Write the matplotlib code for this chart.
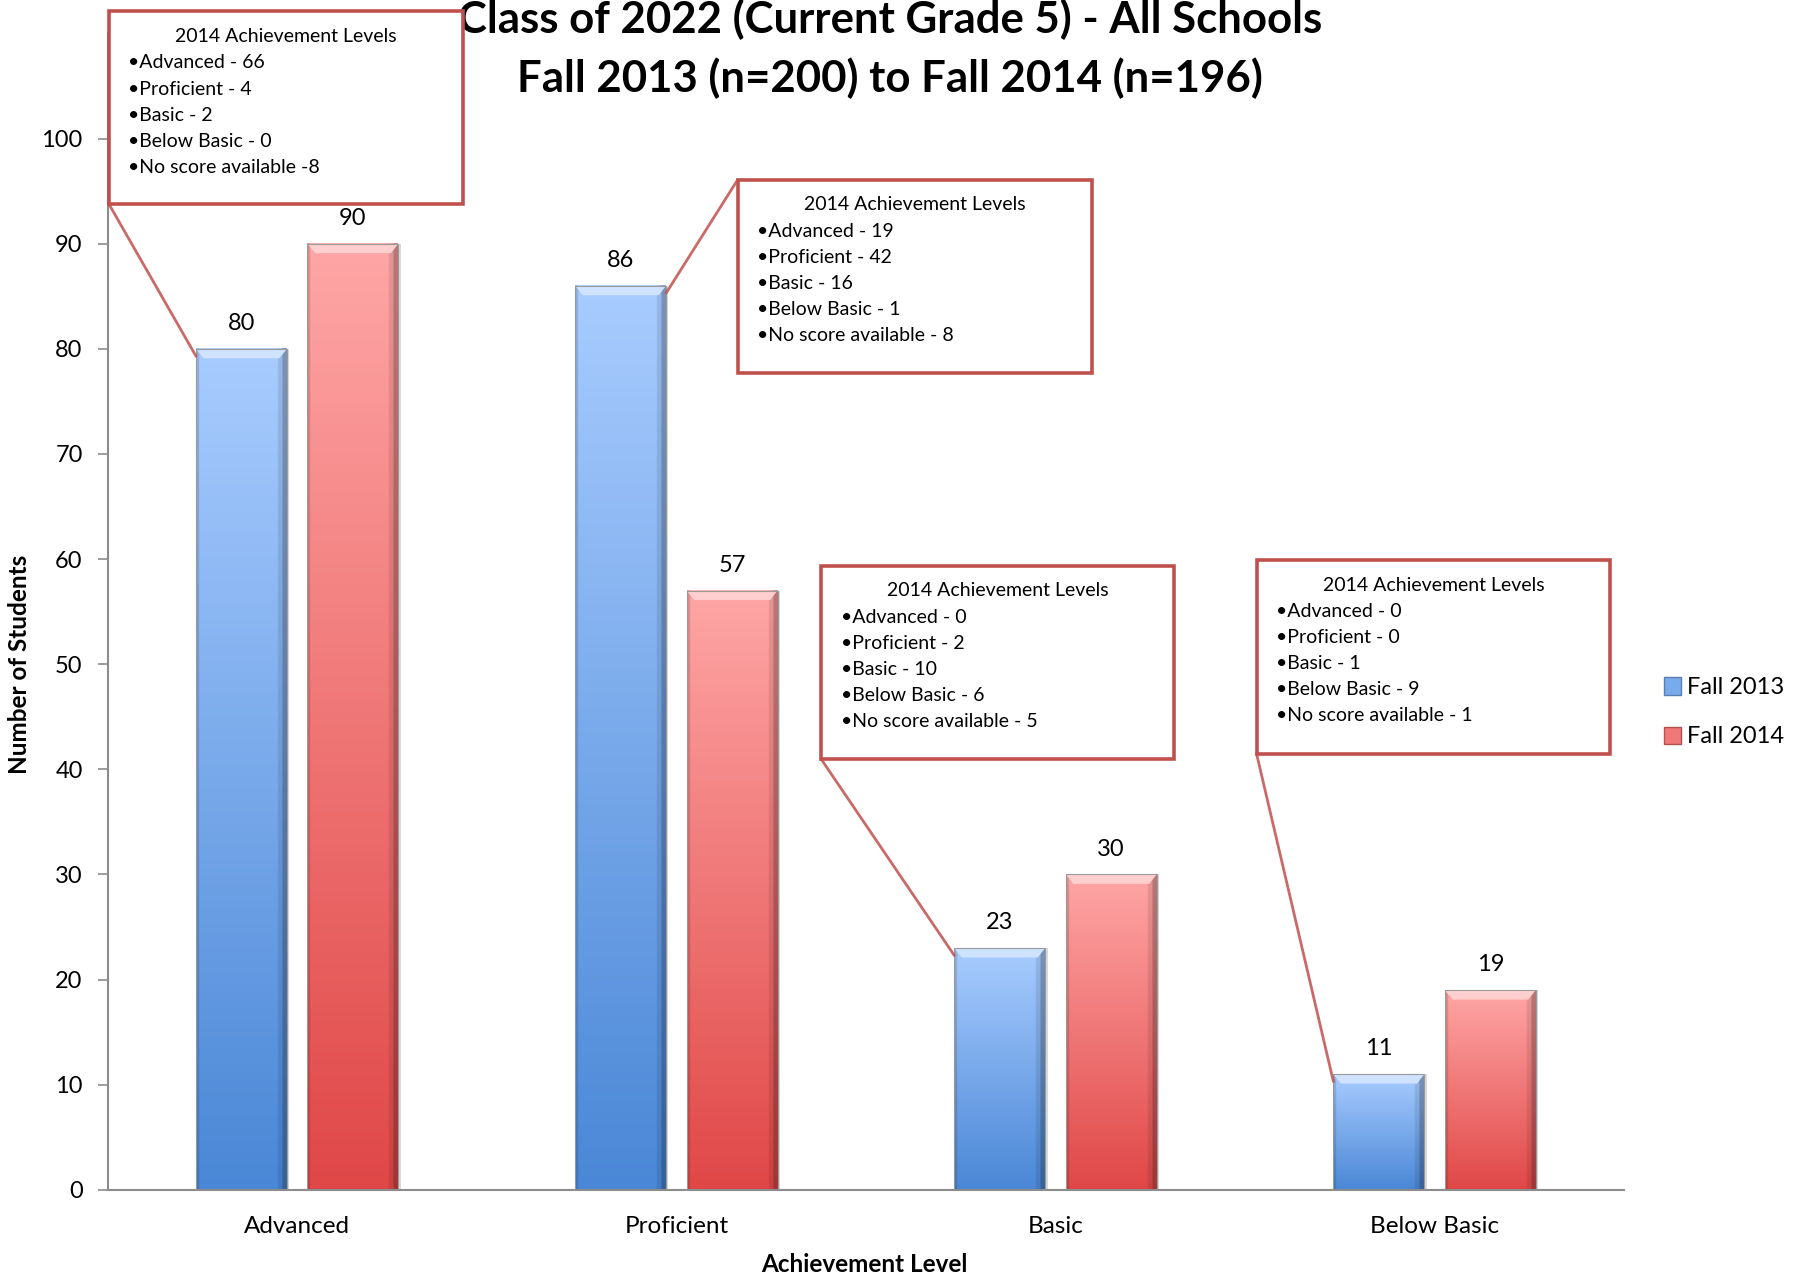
import numpy as np
import matplotlib
matplotlib.use("Agg")
import matplotlib.pyplot as plt
from matplotlib.patches import Rectangle, Polygon, Patch, ConnectionPatch

plt.rcParams['font.family'] = ['Lato', 'DejaVu Sans']

# ---------------- data ----------------
categories = ["Advanced", "Proficient", "Basic", "Below Basic"]
fall_2013 = [80, 86, 23, 11]
fall_2014 = [90, 57, 30, 19]
series_names = ["Fall 2013", "Fall 2014"]
y_ticks = [0, 10, 20, 30, 40, 50, 60, 70, 80, 90, 100]

box_header = "2014 Achievement Levels"
box_lines = [
    ["Advanced - 66", "Proficient - 4", "Basic - 2", "Below Basic - 0", "No score available -8"],
    ["Advanced - 19", "Proficient - 42", "Basic - 16", "Below Basic - 1", "No score available - 8"],
    ["Advanced - 0", "Proficient - 2", "Basic - 10", "Below Basic - 6", "No score available - 5"],
    ["Advanced - 0", "Proficient - 0", "Basic - 1", "Below Basic - 9", "No score available - 1"],
]

title_lines = ["Class of 2022 (Current Grade 5) - All Schools",
               "Fall 2013 (n=200) to Fall 2014 (n=196)"]

# ---------------- figure ----------------
W, H = 1796, 1278
fig = plt.figure(figsize=(W / 100, H / 100), dpi=100)

def F(x, y):
    """reference (shown 1568x1116) pixel -> figure fraction"""
    return x / 1568.0, 1 - y / 1116.0

ax_l, ax_r = 94 / 1568, 1418 / 1568
y0 = 1 - 1039 / 1116
y100 = 1 - 121 / 1116
ymax = 110
ax_top = y0 + (y100 - y0) * ymax / 100
ax = fig.add_axes([ax_l, y0, ax_r - ax_l, ax_top - y0])

x = np.arange(len(categories))
bw = 0.24
off = 0.147

blue_top, blue_bot = np.array([0.66, 0.80, 1.00]), np.array([0.29, 0.53, 0.84])
red_top, red_bot = np.array([1.00, 0.65, 0.65]), np.array([0.88, 0.28, 0.28])

b1 = ax.bar(x - off, fall_2013, bw, color='none', edgecolor='none', zorder=2)
b2 = ax.bar(x + off, fall_2014, bw, color='none', edgecolor='none', zorder=2)

def shade(container, top, bot):
    for p in container.patches:
        px, py, pw, ph = p.get_x(), p.get_y(), p.get_width(), p.get_height()
        ny, nx = 200, 60
        t = np.linspace(0, 1, ny)[:, None, None]  # 0 top -> 1 bottom
        img = top[None, None, :] * (1 - t) + bot[None, None, :] * t
        img = np.repeat(img, nx, axis=1)
        u = np.linspace(0, 1, nx)
        edge = np.ones(nx)
        edge[u > 0.95] = 0.72
        edge[(u > 0.90) & (u <= 0.95)] = 0.90
        edge[u < 0.03] = 0.85
        img = img * edge[None, :, None]
        img = np.clip(img, 0, 1)
        ax.imshow(img, extent=[px, px + pw, py, py + ph], aspect='auto',
                  origin='upper', zorder=2, interpolation='bilinear')
        # bevel top cap
        dy = 0.9
        dx = 0.02
        cap = Polygon([(px, py + ph), (px + pw, py + ph),
                       (px + pw - dx, py + ph - dy), (px + dx, py + ph - dy)],
                      closed=True, facecolor=np.clip(top * 0.55 + 0.45, 0, 1),
                      edgecolor='none', zorder=3)
        ax.add_patch(cap)
        ax.add_patch(Rectangle((px, py), pw, ph, facecolor='none',
                               edgecolor='#9a9a9a', lw=0.8, zorder=3))
        # subtle shadow on right
        ax.add_patch(Rectangle((px + pw, py), 0.006, ph, facecolor='#c0c0c0',
                               edgecolor='none', alpha=0.6, zorder=1.9))

shade(b1, blue_top, blue_bot)
shade(b2, red_top, red_bot)

for cont, vals in ((b1, fall_2013), (b2, fall_2014)):
    for p, v in zip(cont.patches, vals):
        ax.text(p.get_x() + p.get_width() / 2, p.get_height() + 1.4, str(v),
                ha='center', va='bottom', fontsize=17, color='black', zorder=4)

ax.set_xlim(-0.5, len(categories) - 0.5)
ax.set_ylim(0, ymax)
ax.set_yticks(y_ticks)
ax.set_yticklabels([str(t) for t in y_ticks], fontsize=17)
ax.set_xticks(x)
ax.set_xticklabels(categories, fontsize=17.5)
ax.tick_params(axis='x', length=0, pad=19)
ax.tick_params(axis='y', length=7, width=1.2, color='#8c8c8c', direction='out', pad=11)
for s in ('top', 'right'):
    ax.spines[s].set_visible(False)
for s in ('left', 'bottom'):
    ax.spines[s].set_color('#8c8c8c')
    ax.spines[s].set_linewidth(1.5)

# axis labels
fig.text(*F(17, 580), "Number of Students", rotation=90, ha='center', va='center',
         fontsize=17.5, fontweight='bold')
fig.text(*F(755, 1104), "Achievement Level", ha='center', va='center',
         fontsize=17.5, fontweight='bold')

# title
fig.text(*F(777, 17), title_lines[0], ha='center', va='center',
         fontsize=31.5, fontweight='bold')
fig.text(*F(777, 68), title_lines[1], ha='center', va='center',
         fontsize=31.5, fontweight='bold')

# legend
handles = [Patch(facecolor=(blue_top + blue_bot) / 2, edgecolor='#5a7fb0'),
           Patch(facecolor=(red_top + red_bot) / 2, edgecolor='#b05050')]
fig.legend(handles, series_names, loc='center left', bbox_to_anchor=F(1434, 622),
           frameon=False, fontsize=17, handlelength=0.75, handleheight=0.75,
           handletextpad=0.25, labelspacing=1.2)

# annotation boxes
box_color = '#c0504d'
boxes = [  # left, top, right, bottom in reference px ; corner ; bar corner
    ((95, 10, 404, 178), (95, 178), 'left'),
    ((644, 157, 953, 326), (644, 157), 'right'),
    ((717, 494, 1025, 663), (717, 663), 'left'),
    ((1097, 489, 1406, 658), (1097, 658), 'left'),
]
for i, ((l, t, r, b), corner, side) in enumerate(boxes):
    p = b1.patches[i]
    bx = p.get_x() if side == 'left' else p.get_x() + p.get_width()
    by = p.get_height() - 0.7
    con = ConnectionPatch(xyA=F(*corner), coordsA=fig.transFigure,
                          xyB=(bx, by), coordsB=ax.transData,
                          color=box_color, lw=2.0, alpha=0.85, zorder=5)
    fig.add_artist(con)
    fl, ft = F(l, t)
    fr, fb = F(r, b)
    rect = Rectangle((fl, fb), fr - fl, ft - fb, transform=fig.transFigure,
                     facecolor='white', edgecolor=box_color, lw=2.6, alpha=1, zorder=6)
    fig.add_artist(rect)
    fig.text(*F((l + r) / 2, t + 22), box_header, ha='center', va='center',
             fontsize=14, zorder=7)
    for j, line in enumerate(box_lines[i]):
        fig.text(*F(l + 17, t + 45 + j * 22.8), "\u2022" + line, ha='left',
                 va='center', fontsize=14, zorder=7)

fig.savefig("out.png", dpi=100)
